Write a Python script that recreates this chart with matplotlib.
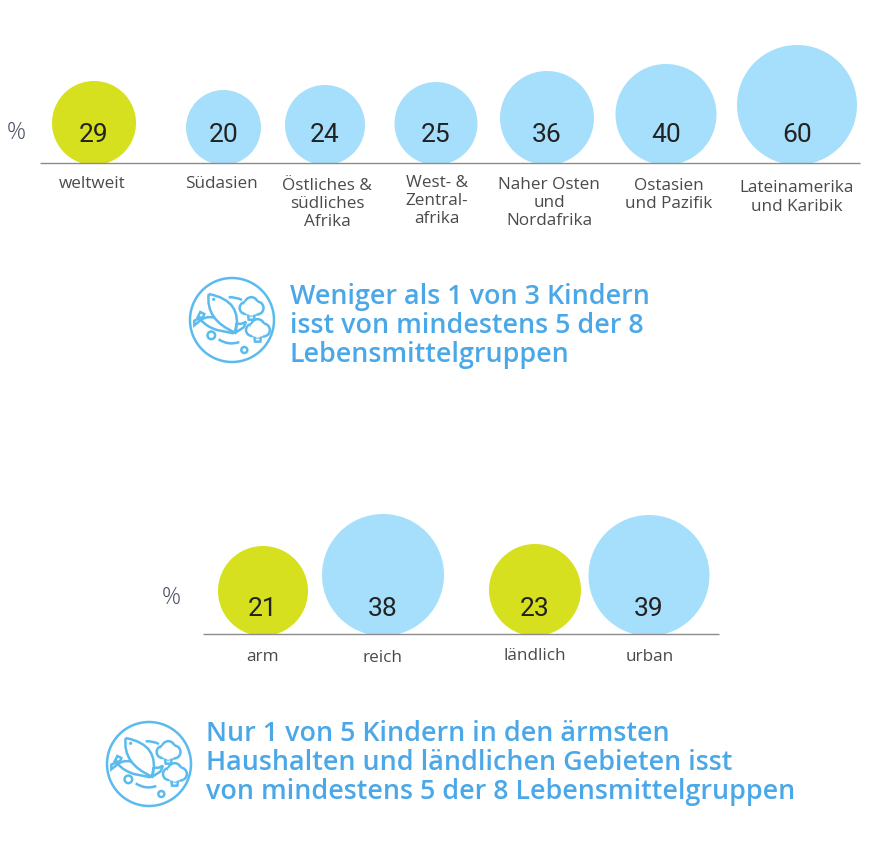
import matplotlib
matplotlib.use("Agg")
import matplotlib.pyplot as plt
from matplotlib.patches import Circle, PathPatch, Rectangle
from matplotlib.path import Path

# ---- data ----
top_labels = ["weltweit", "Südasien", "Östliches &\nsüdliches\nAfrika", "West- &\nZentral-\nafrika",
              "Naher Osten\nund\nNordafrika", "Ostasien\nund Pazifik", "Lateinamerika\nund Karibik"]
top_values = [29, 20, 24, 25, 36, 40, 60]
bottom_labels = ["arm", "reich", "ländlich", "urban"]
bottom_values = [21, 38, 23, 39]
top_title = "Weniger als 1 von 3 Kindern\nisst von mindestens 5 der 8\nLebensmittelgruppen"
bottom_title = "Nur 1 von 5 Kindern in den ärmsten\nHaushalten und ländlichen Gebieten isst\nvon mindestens 5 der 8 Lebensmittelgruppen"

# ---- layout ----
top_x = [94, 223.5, 325, 436, 547, 666, 797]
top_r = [42, 37.5, 40, 41.5, 47, 50.5, 60]
top_colors = ["#D7E01F"] + ["#A6DFFB"] * 6
top_label_x = [92, 221, 327, 437, 549, 669, 797]
top_label_y = [184, 184, 204, 201, 203, 195, 197.5]
bottom_x = [263, 383, 535, 649]
bottom_r = [45, 61, 46, 60.5]
bottom_colors = ["#D7E01F", "#A6DFFB", "#D7E01F", "#A6DFFB"]
bottom_label_x = [263, 383, 535, 650]
bottom_label_y = [657, 658, 656, 657]
BLUE = "#4BA8E8"
ICON = "#5BBBEE"
TXT = "#4A4A4A"

fig = plt.figure(figsize=(8.73, 8.44), dpi=100)
ax = fig.add_axes([0, 0, 1, 1])
ax.set_xlim(0, 873)
ax.set_ylim(844, 0)
ax.axis("off")


def bubbles(xs, rs, colors, values, base, line_y, x0, x1, num_y):
    for x, r, c, v in zip(xs, rs, colors, values):
        ax.add_patch(Circle((x, base - r), r, fc=c, ec="none", zorder=2))
        ax.text(x, num_y, str(v), ha="center", va="center", fontsize=19,
                family="Roboto", color="#222222", zorder=3)
    # the baseline cuts the bubbles off flat
    ax.add_patch(Rectangle((x0, line_y), x1 - x0, base - line_y + 1, fc="white", ec="none", zorder=2.5))


def icon(cx, cy):
    def T(z):
        return (cx + (z[0] - 155) / 3, cy + (z[1] - 150) / 3)
    kw = dict(fc="none", ec=ICON, lw=1.8, zorder=3)
    ax.add_patch(Circle((cx, cy), 42, **kw))

    def path(pts, codes, **extra):
        ax.add_patch(PathPatch(Path([T(p) for p in pts], codes), **{**kw, **extra}))
    C3, M, L = Path.CURVE3, Path.MOVETO, Path.LINETO
    # carrot (behind fish)
    path([(160, 190), (110, 180), (78, 170), (62, 150), (85, 132), (120, 150), (160, 190)],
         [M, L, C3, C3, C3, L, L])
    path([(62, 150), (42, 166), (42, 152), (55, 146), (62, 150)], [M, L, L, L, L])
    path([(68, 143), (52, 142), (60, 126), (72, 132), (68, 143)], [M, L, L, L, L])
    # fish body and tail
    path([(85, 72), (190, 92), (165, 188), (75, 150), (85, 72)], [M, C3, C3, C3, C3], fc="white", zorder=3.2)
    path([(168, 160), (182, 165), (197, 155), (190, 172), (162, 190), (168, 175), (168, 160)],
         [M, C3, L, L, L, C3, C3], zorder=3.3)
    ax.add_patch(Circle(T((100, 88)), 1.6, fc=ICON, ec="none", zorder=3.4))
    # broccoli
    for bx, by in [(213, 114), (232, 180)]:
        for dx, dy, rr in [(-17, 0, 6), (0, -13, 6.5), (17, 0, 6.5), (0, 6, 5.5)]:
            ax.add_patch(Circle(T((bx + dx, by + dy)), rr, fc="white", ec=ICON, lw=1.8, zorder=3))
        ax.add_patch(Circle(T((bx, by - 1)), 8, fc="white", ec="none", zorder=4))
        path([(bx - 10, by + 20), (bx - 8, by + 35), (bx + 8, by + 35), (bx + 10, by + 20)],
             [M, L, L, L], zorder=4.1)
    # dots and arcs
    ax.add_patch(Circle(T((93, 196)), 3.8, **kw))
    ax.add_patch(Circle(T((192, 240)), 3, **kw))
    path([(145, 82), (165, 80), (185, 90)], [M, C3, C3])
    path([(115, 208), (145, 228), (177, 216)], [M, C3, C3])


# top chart
ax.plot([40, 860], [163, 163], color="#8C8C8C", lw=1.0, zorder=3, solid_capstyle="butt")
bubbles(top_x, top_r, top_colors, top_values, 165, 163, 40, 860, 135)
ax.text(16, 133, "%", ha="center", va="center", fontsize=17, family="Open Sans",
        weight="light", color="#4A5060")
for x, y, s in zip(top_label_x, top_label_y, top_labels):
    ax.text(x, y, s, ha="center", va="center", fontsize=12.3, family="Open Sans",
            color=TXT, linespacing=1.2)
ax.text(290, 326, top_title, ha="left", va="center", fontsize=19.4, family="Open Sans",
        weight="semibold", color=BLUE, linespacing=1.03)
icon(232, 320)

# bottom chart
ax.plot([203, 719], [634, 634], color="#8C8C8C", lw=1.0, zorder=3, solid_capstyle="butt")
bubbles(bottom_x, bottom_r, bottom_colors, bottom_values, 636, 634, 203, 719, 609)
ax.text(171, 598, "%", ha="center", va="center", fontsize=17, family="Open Sans",
        weight="light", color="#4A5060")
for x, y, s in zip(bottom_label_x, bottom_label_y, bottom_labels):
    ax.text(x, y, s, ha="center", va="center", fontsize=12.3, family="Open Sans", color=TXT)
ax.text(206, 763, bottom_title, ha="left", va="center", fontsize=19.4, family="Open Sans",
        weight="semibold", color=BLUE, linespacing=1.03)
icon(149, 764)

fig.savefig("out.png", dpi=100)
